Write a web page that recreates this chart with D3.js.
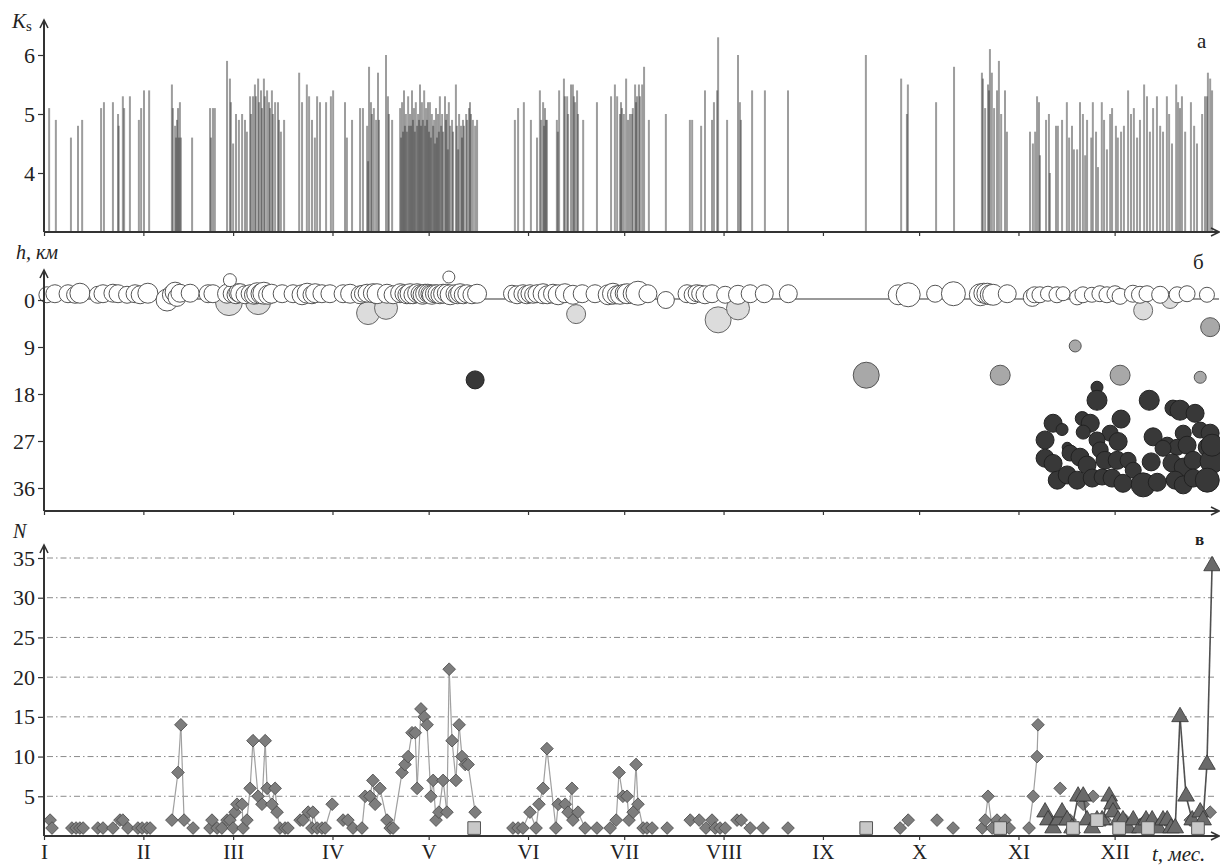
<!DOCTYPE html>
<html>
<head>
<meta charset="utf-8">
<script src="https://cdn.jsdelivr.net/npm/d3@7"></script>
<style>
  body { margin: 0; background: #fff; }
  text { font-family: "Liberation Serif", "DejaVu Serif", serif; fill: #222; }
</style>
</head>
<body>
<svg id="chart" width="1220" height="866"></svg>
<script>
// ---- data (day of year) ----
const monthStarts = [0, 31, 59, 90, 120, 151, 181, 212, 243, 273, 304, 334];
const monthLabels = ["I", "II", "III", "IV", "V", "VI", "VII", "VIII", "IX", "X", "XI", "XII"];
const ksTicks = [4, 5, 6];
const hTicks = [0, 9, 18, 27, 36];
const nTicks = [5, 10, 15, 20, 25, 30, 35];

// panel a: [day, Ks]
const ksEvents = [
  [1.6,5.1],[3.7,4.9],[8.4,4.6],[10.6,4.8],[11.9,4.9],[17.8,5.1],[18.7,5.2],[21.5,5.2],[23.1,5.0],[23.3,4.8],[24.6,5.3],[25.0,5.1],[26.8,5.3],[29.6,4.9],[30.3,5.1],[31.2,5.4],[32.8,5.4],
  [39.9,5.5],[40.2,5.1],[40.9,4.8],[41.2,4.6],[41.5,4.9],[41.8,5.1],[42.1,4.6],[42.4,5.2],[42.7,4.6],[46.2,4.6],
  [51.8,5.1],[52.1,4.6],[52.7,5.1],[53.3,5.1],
  [57.1,5.9],[58.0,5.6],[58.3,5.2],[59.0,4.5],[59.9,5.0],[60.8,4.9],[61.8,5.0],[62.7,4.9],[63.3,4.7],[64.3,5.3],[64.6,5.0],[65.2,5.3],[65.8,5.5],[66.1,5.3],[66.8,5.6],[67.1,5.2],[67.7,5.4],[68.0,5.1],[68.6,5.6],[68.9,5.3],[69.6,5.4],[70.2,5.2],[70.5,5.1],[71.1,5.4],[71.4,5.0],[72.1,5.2],[73.0,5.2],[73.3,4.9],[73.9,4.7],[74.9,4.9],
  [79.6,5.7],[80.5,5.2],[82.0,5.5],[82.7,5.3],[83.6,4.9],[84.5,4.6],[85.2,5.3],[86.1,5.2],[88.0,5.2],[89.5,5.3],[90.2,5.4],
  [93.9,5.2],[94.5,4.6],[96.1,4.9],[98.6,5.1],[99.5,5.1],[100.8,4.8],[101.1,4.2],[101.4,5.8],[102.0,5.2],[102.3,5.0],[102.9,5.1],[103.6,4.9],[104.2,5.7],[104.5,4.9],[106.7,6.0],[107.3,5.3],[107.6,5.0],[108.6,4.9],
  [111.1,5.1],[111.4,4.6],[111.7,5.2],[112.0,4.7],[112.3,5.4],[112.6,4.8],[112.9,5.0],[113.2,4.7],[113.6,5.3],[113.9,4.8],[114.2,5.0],[114.5,4.8],[114.8,5.4],[115.1,4.9],[115.4,5.1],[115.7,4.7],[116.0,5.2],[116.4,4.8],[116.7,5.0],[117.0,4.9],[117.3,5.5],[117.6,4.8],[117.9,5.2],[118.2,4.9],[118.6,5.4],[118.9,4.8],[119.2,5.1],[119.5,4.9],[119.8,5.2],[120.1,4.7],[120.4,5.2],[120.7,4.6],[121.0,5.0],[121.4,4.8],[121.7,4.9],[122.0,4.5],[122.3,5.1],[122.6,4.6],[122.9,5.0],[123.2,4.7],[123.5,5.3],[123.9,4.8],[124.2,5.0],[124.5,4.7],[125.1,5.3],[125.4,4.9],[125.7,5.0],[126.0,4.4],[126.3,5.2],[126.7,4.8],[127.3,4.9],[127.6,4.7],[128.5,5.5],[128.8,4.8],[129.2,4.4],[129.5,5.0],[130.1,4.8],[130.4,4.6],[130.7,4.9],[131.0,4.8],[131.7,5.0],[132.0,4.9],[132.6,5.1],[132.9,5.2],[133.2,5.0],[133.8,4.9],[134.5,4.8],[135.1,4.9],
  [146.9,4.9],[147.9,5.1],[149.7,5.2],[151.9,4.9],[153.8,4.6],[154.7,5.4],[155.1,4.9],[155.7,5.2],[156.0,4.8],[156.3,5.1],[156.6,4.9],[156.9,4.9],[160.0,4.9],[160.3,4.7],[160.7,5.4],[162.2,5.6],[162.5,5.3],[163.2,5.3],[163.5,5.0],[164.4,5.5],[165.0,5.5],[165.3,5.3],[165.7,5.2],[166.3,5.4],[166.6,5.0],[168.2,4.9],[172.5,5.2],
  [176.9,5.3],[178.1,5.5],[178.8,5.3],[179.7,5.0],[180.0,5.2],[180.3,5.1],[180.9,5.0],[181.6,5.6],[182.2,4.9],[182.8,5.0],[183.4,5.0],[183.7,5.1],[184.4,5.5],[184.7,5.2],[185.0,5.3],[185.6,5.5],[185.9,5.3],[186.6,5.5],[187.2,5.8],[188.7,4.9],[194.0,5.0],
  [201.5,4.9],[202.2,4.9],[205.0,4.8],[206.2,5.4],[208.4,4.9],[209.0,5.2],[210.0,5.4],[210.3,6.3],[213.1,4.9],[216.5,6.0],[217.1,5.2],[217.4,4.9],[220.9,5.4],[224.9,5.4],[232.1,5.4],
  [256.4,6.0],[267.4,5.6],[269.2,5.0],[269.5,5.5],[278.3,5.2],[283.9,5.8],
  [292.6,5.7],[292.9,5.6],[293.6,5.1],[294.5,5.5],[294.8,5.4],[295.1,6.1],[295.7,5.7],[296.4,5.1],[297.3,5.4],[297.9,5.9],[298.6,5.0],[299.8,5.4],[300.4,4.7],
  [307.6,4.7],[308.5,4.5],[309.2,4.7],[309.8,5.3],[310.4,5.2],[310.7,4.3],[312.6,4.9],[313.5,5.0],[313.8,4.0],[315.7,4.8],[316.3,4.8],[317.6,4.9],[319.1,5.2],[319.8,4.6],[320.7,4.8],[321.3,4.4],[322.3,4.4],[323.2,5.2],[324.1,5.0],[324.8,4.3],[325.4,4.9],[326.7,4.6],[327.2,5.2],[328.2,4.7],[328.8,4.1],[330.0,5.2],[330.7,4.9],[331.6,4.4],[332.6,5.0],[333.2,5.1],[334.4,4.8],[335.0,4.6],[336.0,4.7],[336.9,4.8],[338.2,5.4],[339.1,5.0],[340.0,5.1],[341.0,4.6],[341.9,4.9],[343.2,5.5],[344.1,5.3],[345.0,4.7],[346.0,5.1],[347.2,5.3],[348.2,4.8],[349.1,4.7],[350.3,5.3],[351.0,5.0],[351.9,4.5],[353.2,5.5],[353.8,5.2],[354.4,5.1],[355.0,5.3],[356.0,4.7],[357.8,5.2],[358.8,4.8],[359.7,4.5],[361.3,5.0],[362.2,5.3],[362.8,5.3],[363.1,5.7],[363.8,5.6],[364.4,5.4]
];

// panel б: [day, h km, Ks, kind]  kind 0 white, 1 light, 2 grey, 3 dark
const depthLight = [
  [57.7,0.4,5.9,1],[66.8,0.4,5.7,1],[101.1,2.5,5.5,1],[106.7,1.5,5.5,1],[166.0,2.7,5.1,1],[210.3,3.8,5.8,1],[216.5,1.6,5.5,1],[342.9,2.0,5.1,1],[351.3,0.0,4.9,1]
];
const depthWhite = [
  [0.9,-1,4.8,0],[3.4,-1.2,5.0,0],[7.5,-1.2,5.0,0],[9.7,-1,4.9,0],[11.2,-1.3,5.2,0],[16.8,-1,4.9,0],[18.4,-1.2,5.0,0],[21.5,-1.3,5.0,0],[23.1,-1.2,5.0,0],[25.9,-1,4.9,0],[28.4,-1.2,5.0,0],[30.0,-1,5.0,0],[32.4,-1.3,5.2,0],
  [38.4,0,5.4,0],[39.9,-1,5.1,0],[40.9,-1.5,5.2,0],[41.5,-0.5,5.0,0],[42.4,-1.3,5.0,0],[45.6,-1.3,5.0,0],
  [51.2,-1.2,5.0,0],[52.7,-1.2,5.0,0],[57.1,-1.2,5.1,0],[58.7,-1.2,5.0,0],[59.9,-1.0,5.0,0],[60.5,-1.4,5.0,0],[61.2,-1.3,5.1,0],[62.7,-1.0,5.0,0],[64.3,-1.2,5.0,0],[65.5,-1.0,5.1,0],[66.5,-1.3,5.3,0],[67.7,-1.2,5.2,0],[68.6,-1.3,5.4,0],[69.9,-1.0,5.1,0],[71.0,-1.2,5.1,0],[74.3,-1.2,5.0,0],[77.7,-1.2,5.0,0],
  [80.5,-1.0,5.2,0],[82.1,-1.3,5.2,0],[83.6,-1.0,5.0,0],[84.6,-1.3,5.1,0],[86.7,-1.2,5.0,0],[89.2,-1.2,5.0,0],[93.3,-1.2,5.0,0],[95.5,-1.2,5.1,0],[98.6,-1.0,5.0,0],[99.5,-1.2,4.9,0],[100.8,-1.3,5.0,0],[102.6,-1.3,5.1,0],[103.9,-1.2,5.2,0],[107.0,-1.2,5.1,0],[108.9,-1.0,5.0,0],
  [111.1,-1.3,5.1,0],[112.3,-1.2,5.0,0],[113.2,-1.0,5.0,0],[114.2,-1.2,5.2,0],[115.1,-1.0,5.0,0],[116.4,-1.3,5.1,0],[117.3,-1.2,5.0,0],[118.1,-1.0,5.1,0],[118.9,-1.2,5.1,0],[119.7,-1.3,5.0,0],[120.4,-1.2,5.0,0],[121.0,-1.0,5.1,0],[121.8,-1.2,5.0,0],[122.6,-1.2,5.0,0],[123.5,-1.0,5.0,0],[124.5,-1.2,5.1,0],[125.5,-1.3,5.0,0],[126.7,-1.0,5.2,0],[128.2,-1.2,5.0,0],[129.0,-1.0,5.0,0],[129.8,-1.3,5.1,0],[130.8,-1.0,5.0,0],[131.9,-1.2,5.0,0],[133.5,-1.0,5.0,0],[135.1,-1.2,5.1,0],
  [146.0,-1.2,4.9,0],[147.6,-1.0,5.0,0],[149.4,-1.2,5.0,0],[150.6,-1.0,5.0,0],[151.6,-1.2,5.0,0],[152.6,-1.0,4.9,0],[153.8,-1.2,5.0,0],[155.7,-1.2,5.2,0],[157.0,-1.0,5.0,0],[158.8,-1.2,5.1,0],[160.4,-1.0,5.2,0],[162.5,-1.3,5.1,0],[165.0,-1.0,5.1,0],[167.9,-1.2,5.0,0],[171.9,-1.2,5.0,0],
  [176.0,-1.0,5.2,0],[177.5,-1.2,5.3,0],[178.6,-1.0,5.0,0],[179.7,-1.0,5.1,0],[181.0,-1.3,5.0,0],[181.9,-1.2,5.2,0],[183.8,-1.2,5.2,0],[185.3,-1.3,5.6,0],[188.4,-1.2,5.0,0],[194.0,0,4.9,0],
  [200.6,-1.2,5.0,0],[202.5,-1.0,5.0,0],[203.6,-1.3,4.9,0],[204.7,-1.2,4.9,0],[206.2,-1.0,5.0,0],[208.4,-1.2,5.0,0],[212.5,-1.0,4.9,0],[216.5,-1.0,5.1,0],[220.3,-1.2,5.0,0],[224.7,-1.2,5.0,0],[232.2,-1.2,5.0,0],
  [266.5,-1.0,5.2,0],[269.6,-1.0,5.6,0],[278.0,-1.2,4.9,0],[283.7,-1.2,5.6,0],[292.1,-1.0,5.4,0],[293.2,-1.3,5.2,0],[294.3,-1.2,5.3,0],[295.2,-1.0,5.2,0],[296.1,-1.0,5.3,0],[300.5,-1.2,5.0,0],
  [308.3,-0.5,5.0,0],[309.0,-1.0,4.8,0],[310.7,-1.0,4.8,0],[313.2,-1.2,4.7,0],[316.0,-1.0,4.8,0],[317.9,-1.2,4.6,0],[322.3,-0.5,4.7,0],[324.1,-1.0,4.8,0],[326.9,-1.0,4.7,0],[329.4,-1.2,4.8,0],[331.6,-1.0,4.8,0],[334.1,-1.2,4.8,0],[335.7,-0.7,4.8,0],[339.7,-1.2,4.9,0],[341.9,-1.0,4.9,0],[344.1,-1.2,4.8,0],[348.2,-1.0,4.9,0],[353.5,-1.0,4.8,0],[356.6,-1.2,4.8,0],[362.8,-1.0,4.7,0],
  [58.0,-3.8,4.5,0],[126.3,-4.4,4.4,0]
];
const depthGrey = [
  [256.5,14.4,5.8,2],[298.3,14.4,5.2,2],[321.7,8.8,4.4,2],[335.7,14.4,5.2,2],[360.7,14.8,4.4,2],[363.8,5.2,5.1,2]
];
const depthDark = [
  [134.5,15.3,5.0,3],
  [328.5,16.7,4.4,3],[328.5,19.2,5.2,3],[344.8,19.2,5.2,3],[352.2,20.7,4.8,3],[354.4,21.1,5.2,3],[359.1,21.7,5.0,3],
  [314.8,23.6,5.0,3],[317.6,24.8,4.4,3],[312.3,26.8,5.0,3],[323.9,22.7,4.6,3],[326.4,23.6,5.0,3],[324.2,25.3,4.6,3],[336.0,22.8,5.0,3],[332.6,25.5,4.8,3],[335.1,27.1,5.0,3],[328.5,26.8,4.8,3],[346.0,26.2,5.0,3],[355.4,25.5,4.8,3],[360.7,24.9,4.8,3],[363.8,25.5,5.0,3],[350.4,27.8,4.8,3],[353.5,28.2,4.8,3],[356.6,27.8,5.0,3],[362.9,28.2,5.0,3],[319.2,28.2,4.2,3],
  [312.3,30.3,5.0,3],[314.8,31.3,5.0,3],[320.1,29.3,4.8,3],[323.2,30.1,5.0,3],[325.4,31.6,5.0,3],[329.5,28.7,4.8,3],[331.0,30.7,5.0,3],[334.8,30.7,5.0,3],[338.2,30.7,4.8,3],[345.4,31.0,5.0,3],[349.1,28.4,4.8,3],[351.9,31.2,5.0,3],[355.4,32.0,5.0,3],[358.5,30.7,5.0,3],[364.4,30.9,5.6,3],
  [316.1,34.5,5.0,3],[319.2,33.5,5.0,3],[322.3,34.5,5.0,3],[327.0,34.1,5.0,3],[330.1,33.9,4.8,3],[333.2,34.1,5.0,3],[336.6,35.1,5.0,3],[339.8,32.6,4.8,3],[342.9,35.4,5.6,3],[347.3,34.9,5.0,3],[352.9,34.5,5.0,3],[355.4,35.4,5.0,3],[358.5,34.1,5.0,3],[362.9,34.5,5.6,3],[364.4,27.8,5.4,3]
];

// panel в: [day, N]
const diamondSeries = [
  [1.9,2],[2.5,1],[8.7,1],[10.0,1],[11.2,1],[12.2,1],[16.8,1],[18.4,1],[21.5,1],[23.7,2],[24.6,2],[26.2,1],[29.3,1],[30.6,1],[32.1,1],[33.1,1],
  [39.9,2],[41.8,8],[42.7,14],[43.7,2],[46.5,1],
  [51.8,1],[52.4,2],[54.0,1],[55.5,1],[57.1,2],[58.0,2],[59.0,1],[59.6,3],[60.2,4],[61.8,4],[62.1,1],[63.3,2],[64.3,6],[65.2,12],[66.8,5],[68.0,4],[69.0,12],[69.6,6],[71.1,4],[72.1,6],[72.7,3],[73.6,1],[75.2,1],[76.1,1],
  [79.9,2],[80.8,2],[82.4,3],[83.6,1],[83.9,3],[85.2,1],[86.7,1],[87.7,1],[89.9,4],[93.3,2],[94.8,2],[96.4,1],[99.2,1],[100.2,5],[101.7,5],[102.6,7],[103.3,4],[104.8,6],[107.0,2],[108.0,1],[108.9,1],
  [111.7,8],[112.6,9],[113.6,10],[114.8,13],[115.8,13],[116.4,6],[117.6,16],[118.6,15],[119.5,14],[120.7,5],[121.4,7],[122.3,2],[123.2,3],[124.5,7],[125.7,3],[126.4,21],[127.3,12],[128.5,7],[129.5,14],[130.4,10],[131.4,9],[132.3,9],[134.5,3],
  [146.3,1],[147.9,1],[149.4,1],[151.6,3],[153.5,1],[154.4,4],[155.7,6],[156.9,11],[159.7,1],[160.4,4],[162.6,4],[163.5,3],[164.7,6],[165.0,2],[166.6,3],[168.8,1],[172.5,1],
  [176.6,1],[178.5,2],[179.4,8],[180.6,5],[181.9,5],[182.5,2],[183.8,3],[184.7,9],[185.3,4],[186.9,1],[188.1,1],[189.7,1],[194.4,1],
  [201.6,2],[204.4,2],[206.5,1],[208.4,2],[209.4,1],[210.9,1],[212.5,1],[216.2,2],[217.5,2],[220.3,1],[224.3,1],[232.1,1],
  [267.1,1],[269.6,2],[278.6,2],[283.6,1],[292.7,1],[293.6,2],[294.5,5],[295.8,1],[297.3,2],[298.9,1],[299.8,2],[301.1,1],
  [307.3,1],[308.6,5],[309.8,10],[310.1,14],[313.9,2],[317.0,6],[320.1,2],[324.2,4],[327.3,5],[331.0,2],[337.3,2],[343.5,2],[349.8,2],[357.6,2],[363.8,3]
];
const squareSeries = [
  [134.2,1],[256.5,1],[298.3,1],[321.0,1],[328.5,2],[335.4,1],[344.4,1],[360.0,1]
];
const triangleSeries = [
  [312.3,3],[313.2,2],[314.8,1],[316.4,2],[317.6,3],[319.2,2],[320.7,1],[322.6,5],[324.2,5],[325.4,2],[327.0,1],[328.5,2],[330.1,2],[332.3,5],[333.2,4],[333.5,3],[335.1,2],[336.6,2],[338.2,1],[339.8,2],[341.9,1],[343.8,2],[345.7,2],[347.6,1],[349.1,2],[350.4,2],[351.6,1],[352.9,1],[354.4,15],[356.3,5],[358.2,2],[360.7,3],[361.6,2],[362.8,9],[364.4,34]
];

// ---- drawing ----
const svg = d3.select("#chart");
const axisCol = "#333";
const serif = '"Liberation Serif", "DejaVu Serif", serif';
const x = d3.scaleLinear().domain([0, 365]).range([44, 1214]);
const xLeft = 44, xRight = 1219;

const yK = d3.scaleLinear().domain([3, 6]).range([232, 55]);
const yH = d3.scaleLinear().domain([0, 36]).range([300, 488]);
const yN = d3.scaleLinear().domain([0, 35]).range([836, 558]);
const rK = d3.scaleLinear().domain([4, 6]).range([4, 14]);

function arrowUp(top, bottom) {
  svg.append("line").attr("x1", xLeft).attr("x2", xLeft).attr("y1", bottom).attr("y2", top)
    .attr("stroke", axisCol).attr("stroke-width", 2);
  svg.append("path").attr("d", `M${xLeft - 4},${top + 8}L${xLeft},${top}L${xLeft + 4},${top + 8}`)
    .attr("fill", "none").attr("stroke", axisCol).attr("stroke-width", 1.6);
}
function arrowRight(yPos) {
  svg.append("line").attr("x1", xLeft).attr("x2", xRight).attr("y1", yPos).attr("y2", yPos)
    .attr("stroke", axisCol).attr("stroke-width", 2);
  svg.append("path").attr("d", `M${xRight - 8},${yPos - 4}L${xRight},${yPos}L${xRight - 8},${yPos + 4}`)
    .attr("fill", "none").attr("stroke", axisCol).attr("stroke-width", 1.6);
}
function monthAxis(yPos, labels) {
  const ax = d3.axisBottom(x).tickValues(monthStarts).tickSize(4).tickPadding(4)
    .tickFormat((d, i) => labels ? monthLabels[i] : "");
  const g = svg.append("g").attr("transform", `translate(0,${yPos})`).call(ax);
  g.select(".domain").remove();
  g.selectAll("line").attr("stroke", axisCol).attr("stroke-width", 1.2);
  g.selectAll("text").style("font-size", "21px").style("font-family", serif).attr("fill", "#222");
  return g;
}
function valueAxis(scale, ticks) {
  const g = svg.append("g").attr("transform", `translate(${xLeft},0)`)
    .call(d3.axisLeft(scale).tickValues(ticks).tickFormat(d3.format("d")).tickSize(6).tickPadding(3));
  g.select(".domain").remove();
  g.selectAll("line").attr("stroke", axisCol).attr("stroke-width", 1.2);
  g.selectAll("text").style("font-size", "22px").style("font-family", serif).attr("fill", "#222");
}

// panel а
svg.append("g").selectAll("line").data(ksEvents).enter().append("line")
  .attr("x1", d => x(d[0])).attr("x2", d => x(d[0]))
  .attr("y1", yK(3)).attr("y2", d => yK(d[1]))
  .attr("stroke", "#3c3c3c").attr("stroke-opacity", 0.5).attr("stroke-width", 2);
valueAxis(yK, ksTicks);
arrowUp(20, 232);
arrowRight(232);
monthAxis(232, false);

const kLab = svg.append("text").attr("x", 12).attr("y", 28).style("font-size", "21px").style("font-family", serif);
kLab.append("tspan").style("font-style", "italic").text("K");
kLab.append("tspan").attr("dy", 3).style("font-size", "15px").text("s");
svg.append("text").attr("x", 1197).attr("y", 48).style("font-size", "21px").style("font-family", serif).text("а");

// panel б
svg.append("line").attr("x1", xLeft).attr("x2", xRight).attr("y1", yH(0) - 1).attr("y2", yH(0) - 1)
  .attr("stroke", "#777").attr("stroke-width", 1.3);
const fills = ["#ffffff", "#dcdcdc", "#a8a8a8", "#383838"];
const strokes = ["#555", "#666", "#555", "#222"];
[depthLight, depthWhite, depthGrey, depthDark].forEach(set => {
  svg.append("g").selectAll("circle").data(set).enter().append("circle")
    .attr("cx", d => x(d[0])).attr("cy", d => yH(d[1])).attr("r", d => rK(d[2]))
    .attr("fill", d => fills[d[3]]).attr("stroke", d => strokes[d[3]]).attr("stroke-width", 1);
});
valueAxis(yH, hTicks);
arrowUp(270, 511);
arrowRight(511);
monthAxis(511, false);
svg.append("text").attr("x", 16).attr("y", 259).style("font-size", "20px").style("font-style", "italic").style("font-family", serif).text("h, км");
svg.append("text").attr("x", 1193).attr("y", 269).style("font-size", "21px").style("font-family", serif).text("б");

// panel в
svg.append("g").selectAll("line").data(nTicks).enter().append("line")
  .attr("x1", xLeft + 3).attr("x2", 1214).attr("y1", d => yN(d)).attr("y2", d => yN(d))
  .attr("stroke", "#8a8a8a").attr("stroke-width", 1).attr("stroke-dasharray", "6,3,1.5,3");

function segments(series, gap) {
  const out = [];
  for (let i = 1; i < series.length; i++) {
    if (series[i][0] - series[i - 1][0] <= gap) out.push([series[i - 1], series[i]]);
  }
  return out;
}
svg.append("g").selectAll("line").data(segments(diamondSeries, 3)).enter().append("line")
  .attr("x1", d => x(d[0][0])).attr("y1", d => yN(d[0][1]))
  .attr("x2", d => x(d[1][0])).attr("y2", d => yN(d[1][1]))
  .attr("stroke", "#a0a0a0").attr("stroke-width", 1.2);

svg.append("g").selectAll("path").data(diamondSeries).enter().append("path")
  .attr("d", d3.symbol(d3.symbolSquare, 80))
  .attr("transform", d => `translate(${x(d[0])},${yN(d[1])}) rotate(45)`)
  .attr("fill", "#7d7d7d").attr("stroke", "#4a4a4a").attr("stroke-width", 0.8);

svg.append("g").selectAll("line").data(segments(triangleSeries, 4)).enter().append("line")
  .attr("x1", d => x(d[0][0])).attr("y1", d => yN(d[0][1]))
  .attr("x2", d => x(d[1][0])).attr("y2", d => yN(d[1][1]))
  .attr("stroke", "#505050").attr("stroke-width", 1.6);

svg.append("g").selectAll("path").data(triangleSeries).enter().append("path")
  .attr("d", d3.symbol(d3.symbolTriangle, 120))
  .attr("transform", d => `translate(${x(d[0])},${yN(d[1])})`)
  .attr("fill", "#6a6a6a").attr("stroke", "#333").attr("stroke-width", 0.8);

svg.append("g").selectAll("path").data(squareSeries).enter().append("path")
  .attr("d", d3.symbol(d3.symbolSquare, 160))
  .attr("transform", d => `translate(${x(d[0])},${yN(d[1])})`)
  .attr("fill", "#c8c8c8").attr("stroke", "#555").attr("stroke-width", 1);

valueAxis(yN, nTicks);
arrowUp(545, 836);
arrowRight(836);
monthAxis(836, true);
svg.append("text").attr("x", 13).attr("y", 538).style("font-size", "20px").style("font-style", "italic").style("font-family", serif).text("N");
svg.append("text").attr("x", 1195).attr("y", 545).style("font-size", "17px").style("font-weight", "bold").style("font-family", serif).text("в");
svg.append("text").attr("x", 1152).attr("y", 861).style("font-size", "21px").style("font-style", "italic").style("font-family", serif).text("t, мес.");
</script>
</body>
</html>
